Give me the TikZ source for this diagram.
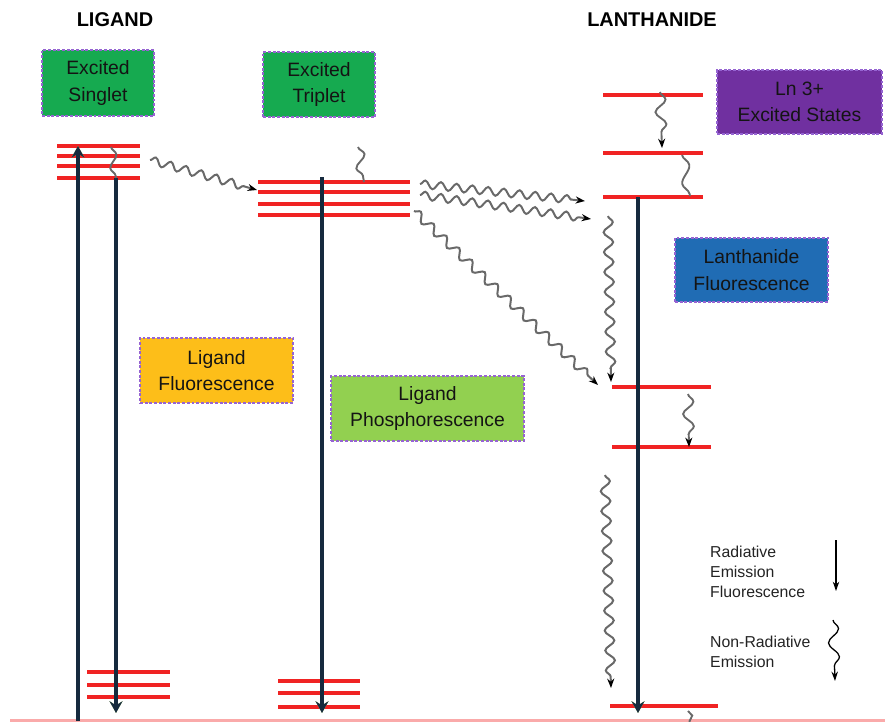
\documentclass[tikz,border=0pt]{standalone}
\usepackage{fontspec}
\setmainfont{Liberation Sans}
\usetikzlibrary{decorations.pathmorphing,arrows.meta}
\definecolor{lvlred}{RGB}{240,35,35}
\definecolor{navyarr}{RGB}{22,42,62}
\definecolor{glow}{RGB}{170,205,110}
\definecolor{wavegray}{RGB}{105,105,105}
\definecolor{boxborder}{RGB}{150,100,210}
\definecolor{sgreen}{RGB}{22,170,80}
\definecolor{lgreen}{RGB}{146,208,80}
\definecolor{orangebox}{RGB}{253,190,25}
\definecolor{lnpurple}{RGB}{112,48,160}
\definecolor{lnblue}{RGB}{32,108,180}
\definecolor{boxtext}{RGB}{20,20,20}
\definecolor{legtext}{RGB}{35,35,35}
\definecolor{baseline}{RGB}{250,170,170}
\begin{document}
\begin{tikzpicture}[x=0.03cm,y=-0.03cm,
  lvl/.style={draw=lvlred,line width=2.8pt},
  rad/.style={draw=navyarr,line width=2.6pt,preaction={draw=glow,line width=4pt},
    -{Stealth[length=10pt,width=11pt,inset=3.5pt]}},
  wave/.style={draw=wavegray,line width=1.7pt,decorate,
    decoration={snake,amplitude=3.4pt,segment length=13.5pt,post length=8pt}},
  wavearr/.style={wave,-{Stealth[length=8pt,width=6pt,black]}},
  vwavearr/.style={wavearr,decoration={snake,amplitude=4pt,segment length=17pt,post length=8pt}},
  squig/.style={draw=wavegray,line width=1.6pt,decorate,
    decoration={snake,amplitude=4.5pt,segment length=22pt}},
  squigarr/.style={draw=wavegray,line width=1.6pt,decorate,
    decoration={snake,amplitude=4.5pt,segment length=21pt,post length=8pt},
    -{Stealth[length=8pt,width=6pt,black]}},
  ebox/.style={draw=boxborder,dash pattern=on 2.5pt off 1.5pt,line width=0.9pt,
    inner sep=0pt,align=center,text=boxtext,font=\fontsize{16.5}{22.5}\selectfont},
  title/.style={font=\fontsize{17}{20}\selectfont\bfseries,text=black},
  legend/.style={anchor=north west,align=left,text=legtext,inner sep=0pt,
    font=\fontsize{13.5}{17}\selectfont}
]
\useasboundingbox (0,0) rectangle (885,722);
% titles
\node[title] (tlig) at (115,20) {LIGAND};
\node[title] (tlan) at (652,20) {LANTHANIDE};
% boxes
\node[ebox,fill=sgreen,minimum width=3.36cm,minimum height=1.98cm] (bsing) at (98,83) {Excited\\Singlet};
\node[ebox,fill=sgreen,minimum width=3.36cm,minimum height=1.95cm] (btrip) at (319,84.5) {Excited\\Triplet};
\node[ebox,fill=lnpurple,minimum width=4.95cm,minimum height=1.92cm] (bln) at (799.5,102) {Ln 3+\\Excited States};
\node[ebox,fill=lnblue,minimum width=4.59cm,minimum height=1.92cm] (blnf) at (751.5,270) {Lanthanide\\Fluorescence};
\node[ebox,fill=orangebox,minimum width=4.59cm,minimum height=1.95cm] (blf) at (216.5,370.5) {Ligand\\Fluorescence};
\node[ebox,fill=lgreen,minimum width=5.79cm,minimum height=1.95cm] (blp) at (427.5,408.5) {Ligand\\Phosphorescence};
% baseline
\draw[draw=baseline,line width=1.8pt] (10,720.5) -- (885,720.5);
% singlet levels
\foreach \yy in {146,156,166,178} \draw[lvl] (57,\yy) -- (140,\yy);
% triplet levels
\foreach \yy in {182,192,204,215} \draw[lvl] (258,\yy) -- (410,\yy);
% lower ligand levels
\foreach \yy in {672,685,697} \draw[lvl] (87,\yy) -- (170,\yy);
\foreach \yy in {681,693,707} \draw[lvl] (278,\yy) -- (360,\yy);
% lanthanide levels
\foreach \yy in {95,153,197} \draw[lvl] (603,\yy) -- (703,\yy);
\foreach \yy in {387,447} \draw[lvl] (612,\yy) -- (711,\yy);
\draw[lvl] (610,706) -- (718,706);
% coordinates
\coordinate (su0) at (78,721);  \coordinate (su1) at (78,146);
\coordinate (sd0) at (116,178); \coordinate (sd1) at (116,713);
\coordinate (td0) at (322,177); \coordinate (td1) at (322,713);
\coordinate (ld0) at (638,197); \coordinate (ld1) at (638,713);
\coordinate (w1a) at (150,160); \coordinate (w1b) at (257,190);
\coordinate (w2a) at (420,184); \coordinate (w2b) at (585,201);
\coordinate (w3a) at (420,195); \coordinate (w3b) at (591,219);
\coordinate (w4a) at (414,211); \coordinate (w4b) at (598,385);
\coordinate (w5a) at (608,216); \coordinate (w5b) at (611,382);
\coordinate (w6a) at (660,92);  \coordinate (w6b) at (662,148);
\coordinate (w7a) at (682,155); \coordinate (w7b) at (690,196);
\coordinate (w8a) at (688,394); \coordinate (w8b) at (689,447);
\coordinate (w9a) at (605,475); \coordinate (w9b) at (611,688);
\coordinate (w10a) at (111,147); \coordinate (w10b) at (116,178);
\coordinate (w11a) at (358,147); \coordinate (w11b) at (364,182);
\coordinate (w12a) at (688,711); \coordinate (w12b) at (690,724);
\coordinate (lg1a) at (836,540); \coordinate (lg1b) at (836,591);
\coordinate (lg2a) at (833,620); \coordinate (lg2b) at (835,681);
% radiative arrows
\draw[rad] (su0) -- (su1);
\draw[rad] (sd0) -- (sd1);
\draw[rad] (td0) -- (td1);
\draw[rad] (ld0) -- (ld1);
% wavy transfers
\draw[wavearr] (w1a) -- (w1b);
\draw[wavearr] (w2a) -- (w2b);
\draw[wavearr] (w3a) -- (w3b);
\draw[wavearr,decoration={snake,amplitude=3.6pt,segment length=15pt,post length=8pt}] (w4a) -- (w4b);
\draw[vwavearr] (w5a) -- (w5b);
\draw[squigarr] (w6a) -- (w6b);
\draw[squig,decoration={snake,amplitude=4.5pt,segment length=30pt}] (w7a) -- (w7b);
\draw[squigarr] (w8a) -- (w8b);
\draw[vwavearr] (w9a) -- (w9b);
\draw[squig,decoration={snake,amplitude=3.5pt,segment length=22pt}] (w10a) -- (w10b);
\draw[squig] (w11a) -- (w11b);
\draw[squig,decoration={snake,amplitude=3pt,segment length=14pt}] (w12a) -- (w12b);
% legend
\node[legend] (lgt1) at (710,546) {Radiative\\Emission\\Fluorescence};
\node[legend] (lgt2) at (710,636) {Non-Radiative\\Emission};
\draw[black,line width=1pt,-{Stealth[length=8pt,width=5.5pt]}] (lg1a) -- (lg1b);
\draw[draw=black,line width=1.1pt,decorate,
  decoration={snake,amplitude=4.5pt,segment length=24pt,post length=8pt},
  -{Stealth[length=8pt,width=5.5pt]}] (lg2a) -- (lg2b);
\end{tikzpicture}
\end{document}
